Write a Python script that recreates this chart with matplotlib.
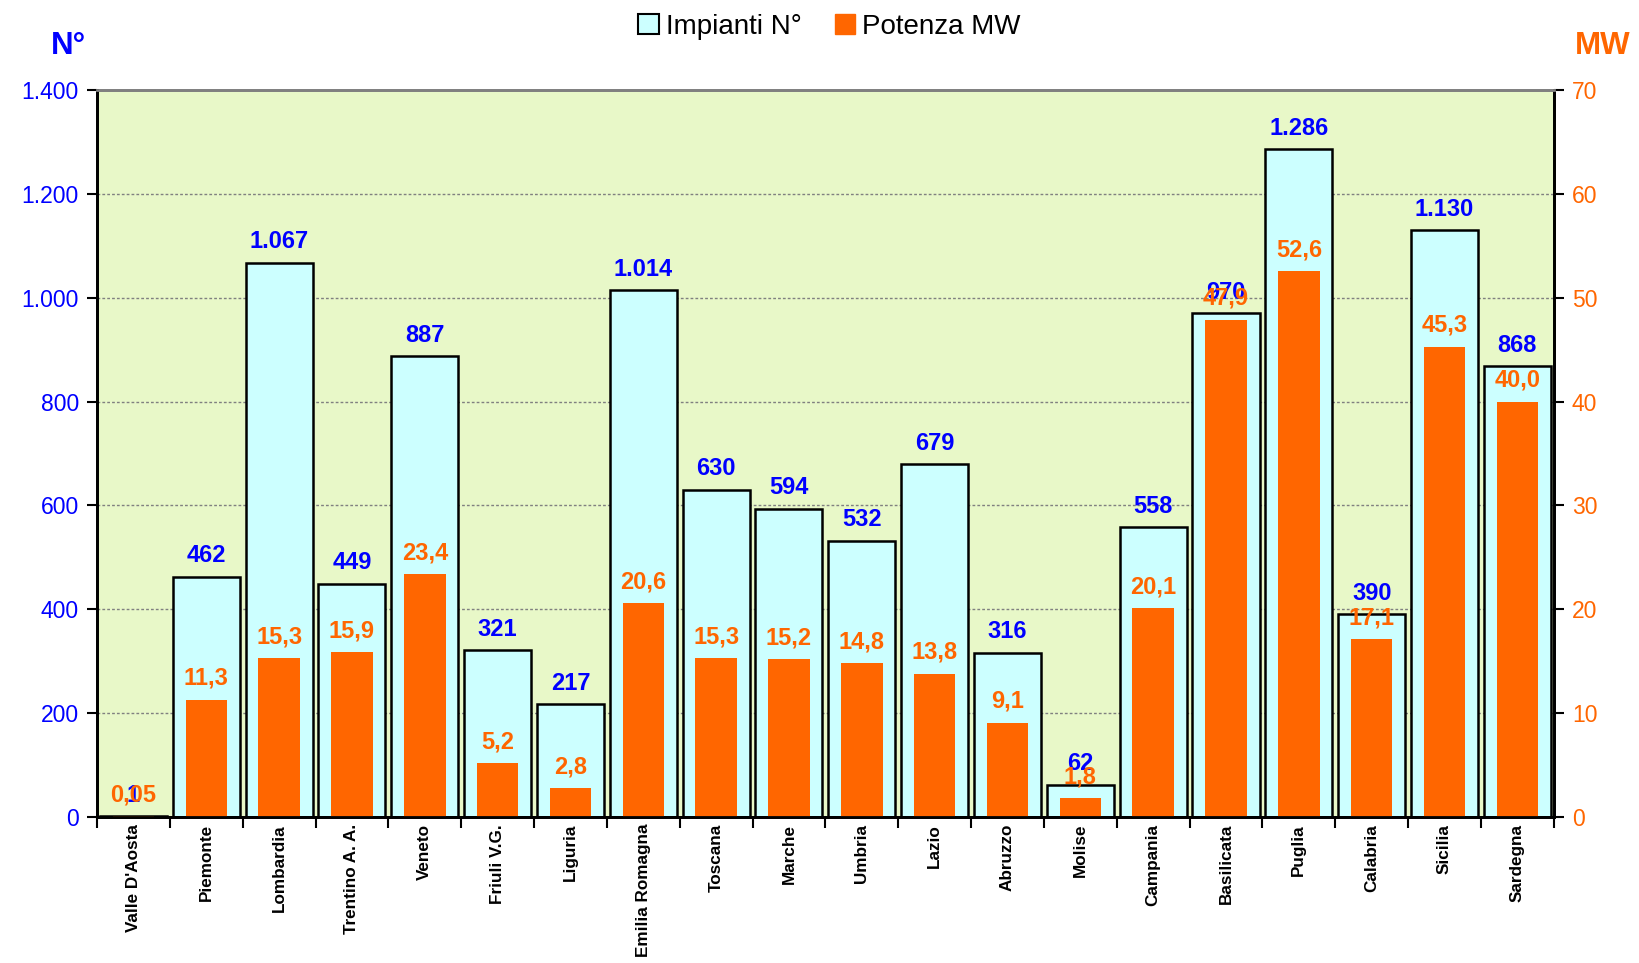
import numpy as np
import matplotlib.pyplot as plt
import matplotlib.patches as mpatches

BG_PLOT = "#E8F8C8"
CYAN = "#CCFFFF"
ORANGE = "#FF6600"
BLUE = "#0000FF"

regioni = ["Valle D'Aosta", "Piemonte", "Lombardia", "Trentino A. A.", "Veneto",
           "Friuli V.G.", "Liguria", "Emilia Romagna", "Toscana", "Marche",
           "Umbria", "Lazio", "Abruzzo", "Molise", "Campania", "Basilicata",
           "Puglia", "Calabria", "Sicilia", "Sardegna"]
impianti = [1, 462, 1067, 449, 887, 321, 217, 1014, 630, 594,
            532, 679, 316, 62, 558, 970, 1286, 390, 1130, 868]
potenza = [0.05, 11.3, 15.3, 15.9, 23.4, 5.2, 2.8, 20.6, 15.3, 15.2,
           14.8, 13.8, 9.1, 1.8, 20.1, 47.9, 52.6, 17.1, 45.3, 40.0]
potenza_lbl = ["0,05", "11,3", "15,3", "15,9", "23,4", "5,2", "2,8", "20,6", "15,3", "15,2",
               "14,8", "13,8", "9,1", "1,8", "20,1", "47,9", "52,6", "17,1", "45,3", "40,0"]


def fmt_it(n):
    return f"{n:,.0f}".replace(",", ".")


plt.rcParams["font.family"] = ["Liberation Sans", "DejaVu Sans"]

fig = plt.figure(figsize=(16.39, 9.63), dpi=100, facecolor="white")
ax = fig.add_axes([0.0592, 0.1516, 0.8888, 0.7549])
ax2 = ax.twinx()

x = np.arange(len(regioni))

# left axis: number of plants
ax.set_facecolor(BG_PLOT)
ax.bar(x, impianti, width=0.92, color=CYAN, edgecolor="black", linewidth=1.8, zorder=2)
ax.set_ylim(0, 1400)
ax.set_yticks(range(0, 1401, 200))
ax.set_yticklabels([fmt_it(v) for v in range(0, 1401, 200)], fontsize=16.5, color=BLUE)
ax.yaxis.grid(True, color="#808080", linestyle=(0, (2, 1.5)), linewidth=1.0, zorder=1)
ax.set_axisbelow(True)
for xi, v in zip(x, impianti):
    ax.annotate(fmt_it(v), (xi, v), xytext=(0, 7), textcoords="offset points",
                ha="center", va="bottom", fontsize=17, fontweight="bold", color=BLUE, zorder=3)

# right axis: power MW
ax2.bar(x, potenza, width=0.57, color=ORANGE, zorder=2)
ax2.set_ylim(0, 70)
ax2.set_yticks(range(0, 71, 10))
ax2.tick_params(axis="y", labelsize=16.5, labelcolor=ORANGE, length=7, width=1.5, pad=6)
for xi, v, lbl in zip(x, potenza, potenza_lbl):
    ax2.annotate(lbl, (xi, v), xytext=(0, 7), textcoords="offset points",
                 ha="center", va="bottom", fontsize=17, fontweight="bold", color=ORANGE, zorder=4)

ax.set_xlim(-0.5, len(regioni) - 0.5)
ax.set_xticks(x)
ax.set_xticklabels(regioni, rotation=90, fontsize=12.3, fontweight="bold")
ax.set_xticks(np.arange(-0.5, len(regioni), 1), minor=True)
ax.tick_params(axis="x", which="major", length=0, pad=5)
ax.tick_params(axis="x", which="minor", length=8, width=1.5, direction="out")
ax.tick_params(axis="y", length=7, width=1.5, pad=6)

for a in (ax, ax2):
    for side in ("left", "right", "bottom"):
        a.spines[side].set_color("black")
        a.spines[side].set_linewidth(2)
    a.spines["top"].set_color("#808080")
    a.spines["top"].set_linewidth(2)

# axis unit labels
fig.text(0.042, 0.952, "N°", fontsize=22.5, fontweight="bold", color=BLUE, ha="center", va="center")
fig.text(0.978, 0.952, "MW", fontsize=22.5, fontweight="bold", color=ORANGE, ha="center", va="center")

handles = [
    mpatches.Patch(facecolor=CYAN, edgecolor="black", linewidth=1.5, label="Impianti N°"),
    mpatches.Patch(facecolor=ORANGE, edgecolor=ORANGE, label="Potenza MW"),
]
fig.legend(handles=handles, loc="center", bbox_to_anchor=(0.506, 0.972), ncol=2,
           frameon=False, fontsize=20, handlelength=0.75, handleheight=0.75,
           handletextpad=0.25, columnspacing=1.2)

fig.savefig("out.png", dpi=100, facecolor="white")
